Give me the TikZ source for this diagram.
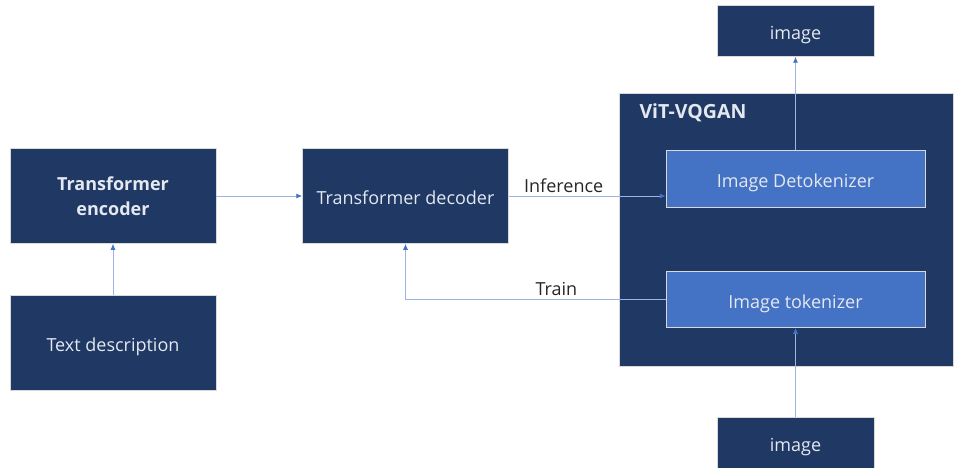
\documentclass[tikz,border=0pt]{standalone}
\usepackage{fontspec}
\setmainfont{Open Sans}
\usetikzlibrary{arrows.meta}
\definecolor{navy}{HTML}{203864}
\definecolor{midblue}{HTML}{4472C4}
\definecolor{linkblue}{HTML}{9DB5E3}
\definecolor{boxtext}{HTML}{E4E8F0}
\begin{document}
\begin{tikzpicture}[x=1pt,y=-1pt,
	darkbox/.style={fill=navy,draw=gray!30,line width=0.5pt,text=boxtext,align=center,text height=17.5pt,text depth=0pt,font=\fontsize{18}{24}\selectfont},
	lightbox/.style={fill=midblue,draw=gray!30,line width=0.5pt,text=boxtext,align=center,text height=17.5pt,text depth=0pt,font=\fontsize{18}{24}\selectfont},
	link/.style={draw=linkblue,line width=0.9pt,-{Latex[length=6pt,width=5pt,fill=midblue,color=midblue]}},
	lbl/.style={text=black!85,font=\fontsize{18}{21}\selectfont}]
	\useasboundingbox (0,0) rectangle (955,468);

	\node[darkbox,text height=,text depth=,minimum width=206pt,minimum height=95pt,font=\fontsize{18}{25}\selectfont\bfseries] (enc) at (113,196) {Transformer\\encoder};
	\node[darkbox,minimum width=206pt,minimum height=95pt] (txt) at (113,343) {Text description};
	\node[darkbox,minimum width=206pt,minimum height=95pt] (dec) at (405.5,196) {Transformer decoder};

	\node[darkbox,minimum width=334pt,minimum height=273pt] (vq) at (786,229.5) {};
	\node[text=boxtext,anchor=west,font=\fontsize{19.5}{21}\selectfont\bfseries] (vqname) at (636,113) {ViT-VQGAN};
	\node[lightbox,minimum width=259pt,minimum height=57pt] (detok) at (795.5,179) {Image Detokenizer};
	\node[lightbox,minimum width=259pt,minimum height=56pt] (tok) at (795.5,299.5) {Image tokenizer};

	\node[darkbox,minimum width=157pt,minimum height=51pt] (imgtop) at (795.5,31) {image};
	\node[darkbox,minimum width=157pt,minimum height=51pt] (imgbot) at (795.5,443) {image};

	\draw[link] (txt.north) -- (enc.south);
	\draw[link] (enc.east) -- (dec.west);
	\draw[link] (dec.east) -- node[lbl,pos=0.35,above] (inf) {Inference} (dec.east -| detok.west);
	\draw[link] (tok.west) -| node[lbl,pos=0.21,above] (trn) {Train} (dec.south);
	\draw[link] (detok.north) -- (imgtop.south);
	\draw[link] (imgbot.north) -- (tok.south);
\end{tikzpicture}
\end{document}
